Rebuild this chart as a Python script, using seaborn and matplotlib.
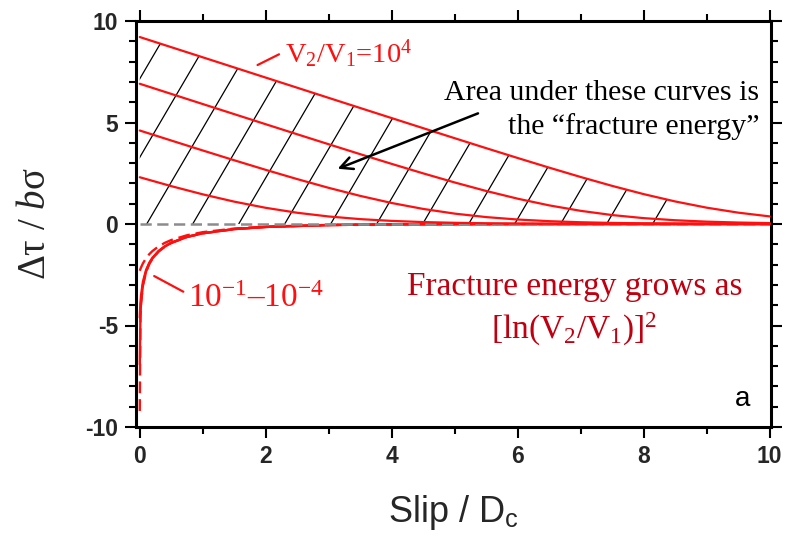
import numpy as np
import pandas as pd
import matplotlib
matplotlib.use("Agg")
import matplotlib.pyplot as plt
import seaborn as sns
from matplotlib.collections import LineCollection
from matplotlib.ticker import MultipleLocator

# ---------------- data ----------------
slip_up = [0, 0.5, 1, 1.5, 2, 2.5, 3, 3.5, 4, 4.5, 5, 5.5, 6, 6.5, 7, 7.5, 8,
           8.5, 9, 9.5, 10]
step_up_1e1 = [2.303, 1.865, 1.461, 1.101, 0.797, 0.553, 0.370, 0.240, 0.153,
               0.095, 0.059, 0.036, 0.022, 0.013, 0.008, 0.005, 0.003, 0.002,
               0.001, 0.001, 0.000]
step_up_1e2 = [4.605, 4.112, 3.622, 3.139, 2.667, 2.211, 1.780, 1.384, 1.034,
               0.742, 0.511, 0.340, 0.220, 0.139, 0.086, 0.053, 0.033, 0.020,
               0.012, 0.007, 0.005]
step_up_1e3 = [6.908, 6.408, 5.909, 5.411, 4.914, 4.419, 3.927, 3.439, 2.960,
               2.493, 2.045, 1.626, 1.246, 0.917, 0.648, 0.440, 0.289, 0.185,
               0.116, 0.072, 0.044]
step_up_1e4 = [9.210, 8.710, 8.211, 7.711, 7.211, 6.712, 6.212, 5.713, 5.216,
               4.719, 4.225, 3.734, 3.250, 2.775, 2.314, 1.876, 1.471, 1.110,
               0.804, 0.559, 0.374]

slip_down = [0, 0.01, 0.02, 0.05, 0.1, 0.15, 0.2, 0.3, 0.4, 0.5, 0.75, 1, 1.5,
             2, 3, 4, 5, 6, 8, 10]
step_dn_1e1 = [-2.303, -2.217, -2.139, -1.939, -1.684, -1.490, -1.335, -1.099,
               -0.925, -0.789, -0.554, -0.402, -0.224, -0.130, -0.046, -0.017,
               -0.006, -0.002, 0.000, 0.000]
step_dn_1e2 = [-4.605, -3.920, -3.520, -2.843, -2.261, -1.911, -1.664, -1.322,
               -1.090, -0.917, -0.630, -0.453, -0.250, -0.144, -0.051, -0.018,
               -0.007, -0.003, 0.000, 0.000]
step_dn_1e3 = [-6.908, -4.515, -3.874, -3.001, -2.343, -1.965, -1.703, -1.347,
               -1.108, -0.931, -0.638, -0.458, -0.252, -0.145, -0.051, -0.019,
               -0.007, -0.003, 0.000, 0.000]
step_dn_1e4 = [-9.210, -4.600, -3.917, -3.019, -2.351, -1.971, -1.707, -1.350,
               -1.109, -0.933, -0.639, -0.459, -0.252, -0.145, -0.051, -0.018,
               -0.007, -0.002, 0.000, 0.000]

x_ticks = [0, 2, 4, 6, 8, 10]
y_ticks = [-10, -5, 0, 5, 10]

# ---------------- style ----------------
sns.set_theme(style="ticks")
plt.rcParams["font.family"] = ["Liberation Sans", "DejaVu Sans"]
plt.rcParams["axes.unicode_minus"] = False
plt.rcParams["mathtext.fontset"] = "custom"
plt.rcParams["mathtext.rm"] = "Liberation Serif"
plt.rcParams["mathtext.it"] = "Liberation Serif:italic"
plt.rcParams["mathtext.bf"] = "Liberation Serif:bold"
plt.rcParams["mathtext.sf"] = "Liberation Sans"

RED = "#ff1010"
DARKRED = "#c00010"
SERIF = ["Liberation Serif", "DejaVu Serif"]

fig = plt.figure(figsize=(7.87, 5.46), dpi=100)
ax = fig.add_axes([136 / 787, 1 - 427 / 546, (771 - 136) / 787, (427 - 21) / 546])

# zero reference line
ax.hlines(0, slip_up[0], slip_up[-1], colors="#8c8c8c", linestyles=(0, (4.5, 2.2)),
          linewidth=1.8, zorder=2.5)

# hatching under the largest curve
fill = ax.fill_between(slip_up, 0, step_up_1e4, facecolor="none", edgecolor="none")
slope = 5.3
spacing = 0.73
starts = np.arange(0.11 - 3 * spacing, 8.3, spacing)
segs = [[(s, 0.0), (s + 12.0 / slope, 12.0)] for s in starts]
lc = LineCollection(segs, colors="black", linewidths=0.9, zorder=2)
ax.add_collection(lc)
lc.set_clip_path(fill.get_paths()[0], ax.transData)

# velocity step-down curves
for vals, ls in [(step_dn_1e1, (0, (5, 2.5))), (step_dn_1e2, "-"),
                 (step_dn_1e3, "-"), (step_dn_1e4, (0, (5, 2.5)))]:
    sns.lineplot(x=slip_down, y=vals, color=RED, linewidth=1.7, ax=ax, zorder=2.2,
                 sort=False, estimator=None, linestyle=ls)

# velocity step-up curves
for vals in [step_up_1e1, step_up_1e2, step_up_1e3, step_up_1e4]:
    sns.lineplot(x=slip_up, y=vals, color=RED, linewidth=1.6, ax=ax, zorder=3,
                 sort=False, estimator=None)

# axes
ax.set_xlim(-0.06, 10.02)
ax.set_ylim(-10, 10)
ax.set_xticks(x_ticks)
ax.set_yticks(y_ticks)
ax.xaxis.set_minor_locator(MultipleLocator(1))
ax.yaxis.set_minor_locator(MultipleLocator(1))
ax.tick_params(which="both", direction="out", top=True, right=True,
               width=1.5, color="black")
ax.tick_params(which="major", length=8, labelsize=16.5, pad=5)
ax.tick_params(which="minor", length=5)
ax.tick_params(labeltop=False, labelright=False)
for lab in ax.get_xticklabels() + ax.get_yticklabels():
    lab.set_fontweight("bold")
for sp in ax.spines.values():
    sp.set_linewidth(2.2)
    sp.set_color("black")

ax.set_xlabel(r"Slip / D$_\mathsf{c}$", fontsize=26, labelpad=18)
ax.set_ylabel(r"Δτ / $b$σ", fontsize=28, family=SERIF, labelpad=22)

# annotations
ax.annotate("", xy=(1.83, 7.77), xytext=(2.25, 8.42),
            arrowprops=dict(arrowstyle="-", color=RED, lw=1.6))
ax.text(2.3, 7.95, r"V$_2$/V$_1$=10$^4$", color=RED, fontsize=20.5, family=SERIF,
        ha="left", va="baseline")

ax.text(9.83, 6.1, "Area under these curves is", fontsize=21.5, family=SERIF,
        ha="right", va="baseline", color="black")
ax.text(9.83, 4.45, "the \u201cfracture energy\u201d", fontsize=21.5, family=SERIF,
        ha="right", va="baseline", color="black")
ax.annotate("", xy=(3.1, 2.67), xytext=(5.41, 5.5),
            arrowprops=dict(arrowstyle="->", color="black", lw=1.8,
                            mutation_scale=22))

ax.annotate("", xy=(0.19, -2.5), xytext=(0.73, -3.4),
            arrowprops=dict(arrowstyle="-", color=RED, lw=1.6))
ax.text(0.77, -4.1, r"10$^{-1}$–10$^{-4}$", color=RED, fontsize=24, family=SERIF,
        ha="left", va="baseline")

ax.text(6.9, -3.5, "Fracture energy grows as", color=DARKRED, fontsize=24,
        family=SERIF, ha="center", va="baseline")
ax.text(6.9, -5.65, r"[ln(V$_2$/V$_1$)]$^2$", color=DARKRED, fontsize=24,
        family=SERIF, ha="center", va="baseline")

ax.text(9.57, -8.95, "a", fontsize=20, ha="center", va="baseline", color="black")

fig.savefig("out.png", dpi=100)
